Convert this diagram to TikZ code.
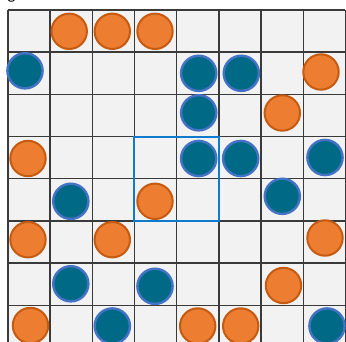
\documentclass[tikz,border=0pt]{standalone}
\usetikzlibrary{backgrounds}
\definecolor{cellbg}{HTML}{F2F2F2}
\definecolor{gridln}{HTML}{3A3A3A}
\definecolor{orfill}{HTML}{ED7D31}
\definecolor{ordraw}{HTML}{C55A11}
\definecolor{tlfill}{HTML}{006A86}
\definecolor{tldraw}{HTML}{4472C4}
\definecolor{selbox}{HTML}{0F7BCF}
\tikzset{
  orange piece/.style={circle, inner sep=0pt, minimum size=35.4pt, fill=orfill, draw=ordraw, line width=2pt},
  teal piece/.style={circle, inner sep=0pt, minimum size=35.2pt, fill=tlfill, draw=tldraw, line width=2.4pt},
  gridline/.style={draw=gridln, line width=1.4pt},
  selection/.style={draw=selbox, line width=2pt}
}
\begin{document}
\begin{tikzpicture}[x=1pt,y=-1pt]
\useasboundingbox (0,0) rectangle (346,342);
\clip (0,0) rectangle (346,342);
% board background
\fill[cellbg] (7.8,10) rectangle (345.4,347.6);
% grid lines
\foreach \i in {0,...,8} {
  \draw[gridline] ({7.8+\i*42.2},10) -- ({7.8+\i*42.2},347.6);
  \draw[gridline] (7.8,{10+\i*42.2}) -- (345.4,{10+\i*42.2});
}
% title fragment
\node[anchor=base, inner sep=0pt, font=\sffamily\bfseries\fontsize{13}{15}\selectfont] (title) at (11.5,-0.2) {g};
% selection square
\coordinate (selA) at (134.4,136.6);
\coordinate (selB) at (218.8,220.8);
\draw[selection] (selA) rectangle (selB);
% row 0
\node[orange piece] (o01) at (69.2,31.3) {};
\node[orange piece] (o02) at (112.3,31.3) {};
\node[orange piece] (o03) at (155,31.3) {};
% row 1
\node[teal piece] (t10) at (25,70.8) {};
\node[teal piece] (t14) at (198.7,73.3) {};
\node[teal piece] (t15) at (241.3,73.3) {};
\node[orange piece] (o17) at (321,72) {};
% row 2
\node[teal piece] (t24) at (198.7,112.8) {};
\node[orange piece] (o26) at (282.3,113) {};
% row 3
\node[orange piece] (o30) at (28,158.5) {};
\node[teal piece] (t34) at (198.7,158.5) {};
\node[teal piece] (t35) at (240.7,158.5) {};
\node[teal piece] (t37) at (325,157.5) {};
% row 4
\node[teal piece] (t41) at (70.8,201.3) {};
\node[orange piece] (o43) at (155,201.3) {};
\node[teal piece] (t46) at (282.3,196.3) {};
% row 5
\node[orange piece] (o50) at (28,239.7) {};
\node[orange piece] (o52) at (112.3,239.7) {};
\node[orange piece] (o57) at (325,238) {};
% row 6
\node[teal piece] (t61) at (70.8,283.8) {};
\node[teal piece] (t63) at (155,286.3) {};
\node[orange piece] (o66) at (283.5,285.5) {};
% row 7
\node[orange piece] (o70) at (30.5,325.5) {};
\node[teal piece] (t72) at (112.3,326) {};
\node[orange piece] (o74) at (197.7,326) {};
\node[orange piece] (o75) at (240.7,326) {};
\node[teal piece] (t77) at (327,326) {};
\end{tikzpicture}
\end{document}
